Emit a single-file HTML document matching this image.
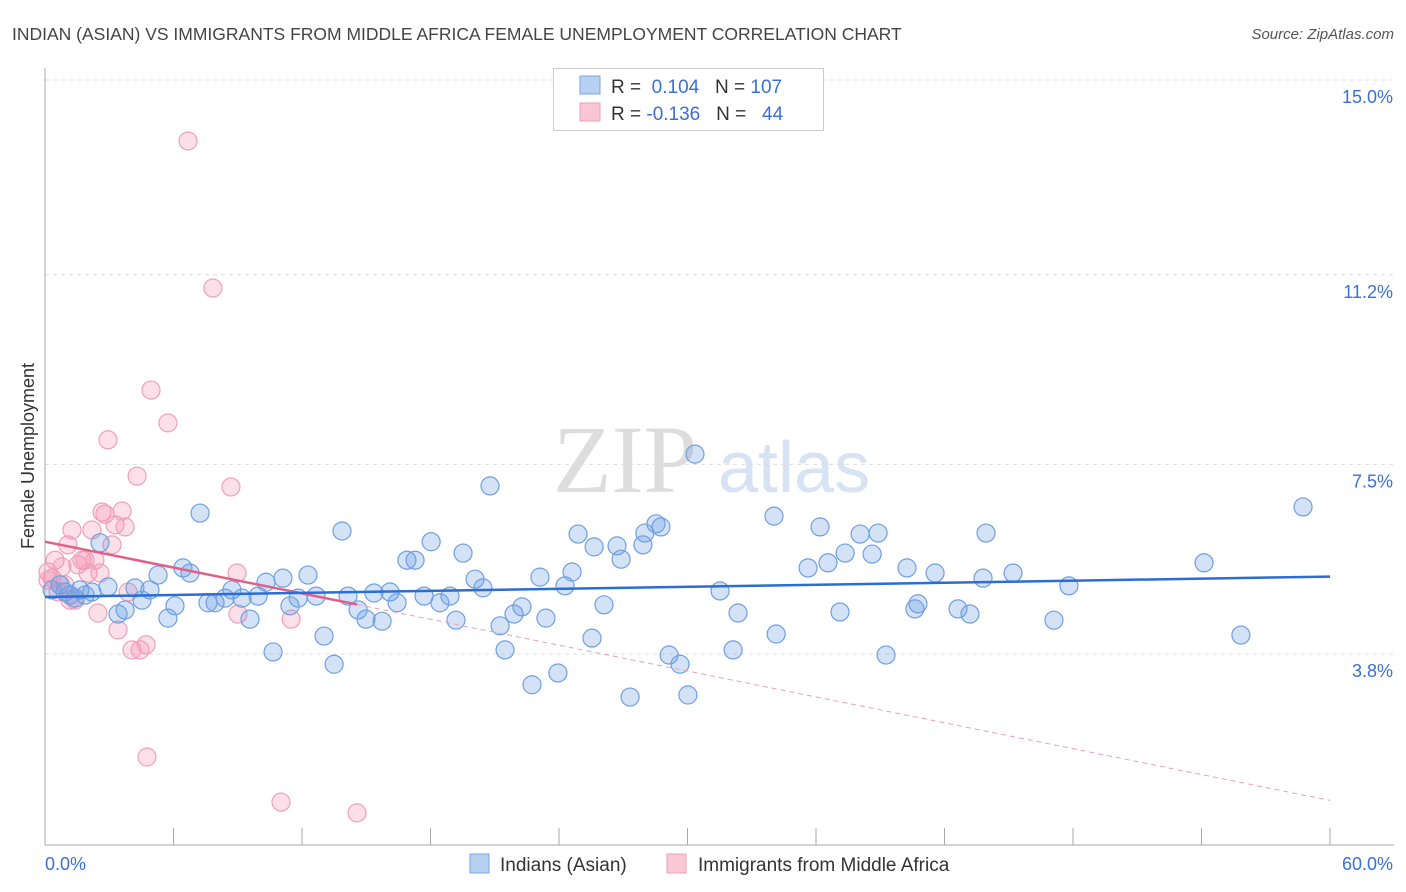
<!DOCTYPE html>
<html><head><meta charset="utf-8"><style>
body{margin:0;background:#fff;font-family:"Liberation Sans",sans-serif;}
svg{display:block}
</style></head><body>
<svg id="chart" width="1406" height="892">
<text x="12" y="40" font-size="17.5" fill="#444">INDIAN (ASIAN) VS IMMIGRANTS FROM MIDDLE AFRICA FEMALE UNEMPLOYMENT CORRELATION CHART</text>
<text x="1394" y="39" font-size="15" fill="#555" font-style="italic" text-anchor="end">Source: ZipAtlas.com</text>
<text x="0" y="0" transform="translate(34,456) rotate(-90)" font-size="18" fill="#333" text-anchor="middle">Female Unemployment</text>
<g><text x="553" y="492" font-family="Liberation Serif,serif" font-size="96" fill="#ddd">ZIP</text><text x="718" y="492" font-size="72" fill="#d6e3f5">atlas</text></g>
<g id="grid"></g><g id="axes"></g><g id="marks"></g>
<g>
<rect x="553.5" y="68.5" width="270" height="62" fill="#fff" stroke="#ccc"/>
<rect x="580" y="76" width="20" height="18" fill="#b8d1f3" stroke="#7aa5e0"/>
<rect x="580" y="103" width="20" height="18" fill="#f9c6d4" stroke="#f0a0b8"/>
<text x="611" y="93" font-size="19" fill="#333">R = <tspan fill="#3a6fd8">&#160;0.104</tspan>&#160;&#160;&#160;N = <tspan fill="#3a6fd8">107</tspan></text>
<text x="611" y="120" font-size="19" fill="#333">R = <tspan fill="#3a6fd8">-0.136</tspan>&#160;&#160;&#160;N = <tspan fill="#3a6fd8">&#160;&#160;44</tspan></text>
</g>
<g>
<rect x="470" y="854" width="19" height="19" fill="#b8d1f3" stroke="#7aa5e0"/>
<text x="500" y="871" font-size="19" fill="#333">Indians (Asian)</text>
<rect x="667" y="854" width="19" height="19" fill="#f9c6d4" stroke="#f0a0b8"/>
<text x="698" y="871" font-size="19" fill="#333">Immigrants from Middle Africa</text>
</g>
</svg>
<script>
const yTicks=[15.0,11.2,7.5,3.8];
const yTickLabels=["15.0%","11.2%","7.5%","3.8%"];
const xTicks=[0,6,12,18,24,30,36,42,48,54,60];
const blueX=[0.33,0.70,0.93,1.17,1.40,1.63,1.87,2.19,2.57,2.94,3.41,3.74,4.20,4.53,4.90,5.28,5.74,6.07,6.44,6.77,7.24,7.61,7.94,8.41,8.73,9.20,9.57,9.95,10.32,10.65,11.11,11.44,11.82,12.28,12.66,13.03,13.50,13.87,14.15,14.62,14.99,15.36,15.74,16.11,16.44,16.90,17.28,17.70,18.03,18.44,18.91,19.19,19.52,20.08,20.45,20.78,21.25,21.48,21.90,22.27,22.74,23.11,23.39,23.95,24.28,24.61,24.89,25.54,25.64,26.10,26.71,26.90,27.32,27.92,28.01,28.53,28.76,29.14,29.65,30.02,30.35,31.52,32.13,32.36,34.04,34.14,35.63,36.19,36.56,37.12,37.36,38.06,38.62,38.90,39.27,40.25,40.62,40.76,41.56,42.63,43.19,43.80,43.94,45.20,47.11,47.81,54.12,55.84,58.74];
const blueY=[5.05,5.15,5.01,4.95,4.89,5.05,4.95,5.01,5.97,5.11,4.58,4.66,5.09,4.85,5.05,5.34,4.50,4.74,5.48,5.38,6.55,4.80,4.80,4.89,5.05,4.89,4.48,4.93,5.20,3.84,5.28,4.74,4.89,5.34,4.93,4.15,3.60,6.20,4.93,4.66,4.48,4.99,4.44,5.01,4.80,5.63,5.63,4.93,5.99,4.80,4.93,4.46,5.77,5.26,5.09,7.08,4.35,3.88,4.58,4.72,3.20,5.30,4.50,3.43,5.13,5.40,6.14,4.11,5.89,4.76,5.91,5.65,2.96,5.93,6.16,6.34,6.28,3.78,3.60,3.00,7.70,5.03,3.88,4.60,6.49,4.19,5.48,6.28,5.58,4.62,5.77,6.14,5.75,6.16,3.78,5.48,4.68,4.78,5.38,4.68,4.58,5.28,6.16,5.38,4.46,5.13,5.58,4.17,6.67];
const pinkX=[0.14,0.33,0.47,0.61,0.79,0.93,1.07,1.26,1.40,1.54,1.73,1.87,2.01,2.19,2.33,2.47,2.57,2.66,2.80,2.94,3.13,3.27,3.41,3.60,3.74,3.88,4.06,4.30,4.44,4.72,4.76,4.95,5.74,6.68,7.84,8.68,8.97,9.01,11.02,11.49,14.57,0.14,0.70,1.17];
const pinkY=[5.40,5.28,5.63,5.01,5.50,5.15,5.93,6.22,4.85,5.54,5.63,5.63,5.38,6.22,5.63,4.60,5.38,6.57,6.53,7.98,5.93,6.32,4.27,6.59,6.28,5.01,3.88,7.27,3.88,3.98,1.79,8.95,8.31,13.81,10.94,7.06,5.38,4.58,0.91,4.48,0.70,5.24,5.15,4.85];
const NS="http://www.w3.org/2000/svg";
const X0=45,X1=1330,Y15=80,PPU=51.25;
const sx=v=>X0+(v/60)*(X1-X0);
const sy=v=>Y15+(15-v)*PPU;
function mk(t,a,p){const e=document.createElementNS(NS,t);for(const k in a)e.setAttribute(k,a[k]);p.appendChild(e);return e;}
const grid=document.getElementById('grid'),axes=document.getElementById('axes'),marks=document.getElementById('marks');
yTicks.forEach((t,i)=>{
 const l=mk('line',{x1:X0,x2:1394,y1:sy(t),y2:sy(t),stroke:'#ddd','stroke-dasharray':'4,4'},grid);
 
 
 const tx=mk('text',{x:1393,y:sy(t)+23,'font-size':18,fill:'#3a6fd8','text-anchor':'end'},axes);
 tx.textContent=yTickLabels[i];
 
 
});
let ax=mk('line',{x1:X0,x2:X0,y1:68,y2:845,stroke:'#aaa'},axes);


ax=mk('line',{x1:X0,x2:1394,y1:845,y2:845,stroke:'#aaa'},axes);


xTicks.forEach(t=>{const l=mk('line',{x1:sx(t),x2:sx(t),y1:828,y2:845,stroke:'#aaa'},axes);
 
 });
let t0=mk('text',{x:45,y:870,'font-size':18,fill:'#3a6fd8'},axes);t0.textContent='0.0%';


t0=mk('text',{x:1393,y:870,'font-size':18,fill:'#3a6fd8','text-anchor':'end'},axes);t0.textContent='60.0%';


function fit(xs,ys){const n=xs.length;let mx=0,my=0;for(let i=0;i<n;i++){mx+=xs[i];my+=ys[i];}mx/=n;my/=n;let a=0,b=0;for(let i=0;i<n;i++){a+=(xs[i]-mx)*(ys[i]-my);b+=(xs[i]-mx)**2;}const s=a/b;return [my-s*mx,s];}
function pts(xs,ys,fill,stroke,name){xs.forEach((x,i)=>{const c=mk('circle',{cx:sx(x),cy:sy(ys[i]),r:9,fill:fill,stroke:stroke,'stroke-width':1.2},marks);
 
 });}
pts(pinkX,pinkY,'rgba(244,150,178,0.3)','#f0a0b8','pink-point');
pts(blueX,blueY,'rgba(110,160,230,0.3)','#6f9fe0','blue-point');
const [pb,pm]=fit(pinkX,pinkY),[bb,bm]=fit(blueX,blueY);
const pmax=Math.max(...pinkX);
let ln=mk('line',{x1:sx(pmax),y1:sy(pb+pm*pmax),x2:sx(60),y2:sy(pb+pm*60),stroke:'#e8a0b8','stroke-dasharray':'5,4','stroke-width':1},marks);


ln=mk('line',{x1:sx(0),y1:sy(pb),x2:sx(pmax),y2:sy(pb+pm*pmax),stroke:'#e0608a','stroke-width':2.5},marks);


ln=mk('line',{x1:sx(0),y1:sy(bb),x2:sx(60),y2:sy(bb+bm*60),stroke:'#2a6dd4','stroke-width':2.5},marks);


</script>
</body></html>
